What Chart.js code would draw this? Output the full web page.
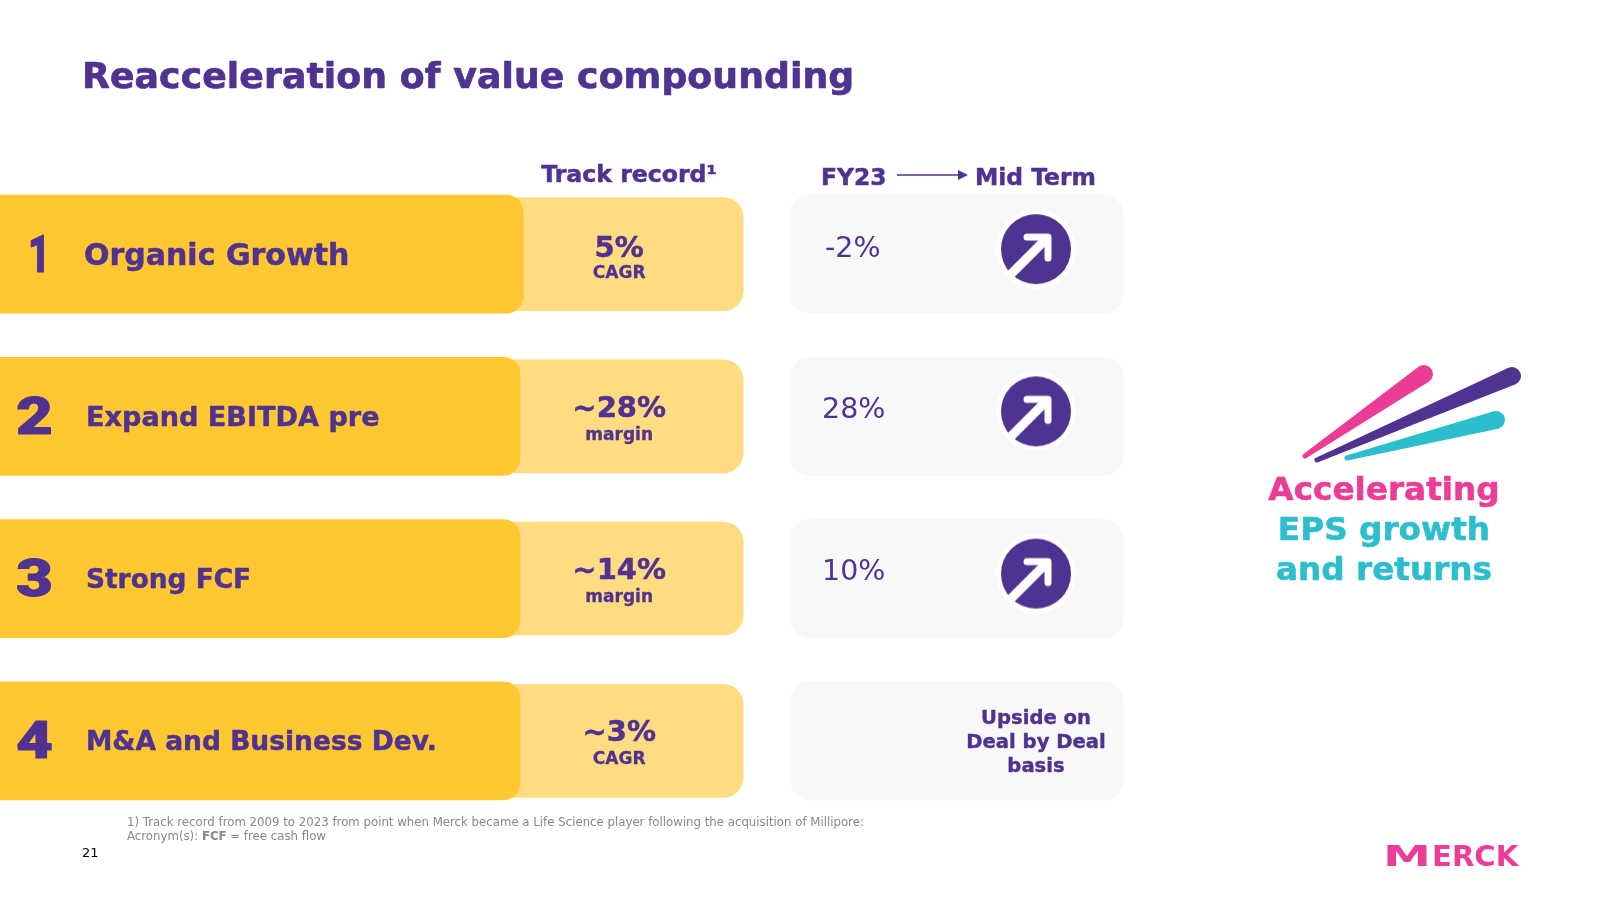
<!DOCTYPE html>
<html>
<head>
<meta charset="utf-8">
<title>Reacceleration of value compounding</title>
<script src="https://cdn.jsdelivr.net/npm/chart.js@4"></script>
<style>
  html, body { margin: 0; background: #fff; }
  canvas { display: block; }
</style>
</head>
<body>
<canvas id="slideChart" width="1600" height="900"></canvas>
<script>
// rows of the slide
const categories = ['Organic Growth', 'Expand EBITDA pre', 'Strong FCF', 'M&A and Business Dev.'];
const rowNumbers = ['1', '2', '3', '4'];

// track record column
const trackValues = ['5%', '~28%', '~14%', '~3%'];
const trackUnits = ['CAGR', 'margin', 'margin', 'CAGR'];

// FY23 -> mid term column
const fy23Values = ['-2%', '28%', '10%', ''];
const midTermUp = [true, true, true, false];
const midTermNote = ['Upside on', 'Deal by Deal', 'basis'];

// bar spans, read in % of slide width
const nameBarEnd = [32.7, 32.5, 32.5, 32.5];
const trackBarSpan = [[30, 46.45], [30, 46.45], [30, 46.45], [30, 46.45]];
const panelSpan = [[49.4, 70.2], [49.4, 70.2], [49.4, 70.2], [49.4, 70.2]];
const midTermAt = 64.75;

const PURPLE = '#503291';
const PINK = '#EB3C96';
const CYAN = '#2DBECD';
const FONT = '"DejaVu Sans"';

// round badge with the up arrow, used as the point style of the mid term marks
function makeBadge() {
    const c = document.createElement('canvas');
    c.width = 84;
    c.height = 94; // extra room below lifts the badge above the row centre
    const g = c.getContext('2d');
    g.translate(42, 42);
    g.fillStyle = '#fff';
    g.beginPath(); g.arc(0, 0, 40, 0, Math.PI * 2); g.fill();
    g.fillStyle = PURPLE;
    g.beginPath(); g.arc(0, 0, 35, 0, Math.PI * 2); g.fill();
    g.strokeStyle = '#fff';
    g.lineCap = 'butt';
    g.lineWidth = 9;
    g.beginPath(); g.moveTo(12, -12); g.lineTo(-27, 27); g.stroke();
    g.lineCap = 'round';
    g.lineJoin = 'round';
    g.lineWidth = 7;
    g.beginPath(); g.moveTo(-9, -12); g.lineTo(12, -12); g.lineTo(12, 9); g.stroke();
    return c;
}

function put(ctx, str, x, y, font, color, align, heavy) {
    ctx.font = font;
    ctx.fillStyle = color;
    ctx.textAlign = align || 'left';
    ctx.textBaseline = 'alphabetic';
    ctx.fillText(str, x, y);
    if (heavy) {
        ctx.strokeStyle = color;
        ctx.lineWidth = heavy;
        ctx.lineJoin = 'round';
        ctx.strokeText(str, x, y);
    }
}

// tapered streak: a thin tip growing into a round head
function streak(ctx, color, tx, ty, tr, hx, hy, hr) {
    const a = Math.atan2(hy - ty, hx - tx);
    const n = a + Math.PI / 2;
    ctx.fillStyle = color;
    ctx.beginPath();
    ctx.moveTo(tx + Math.cos(n) * tr, ty + Math.sin(n) * tr);
    ctx.lineTo(hx + Math.cos(n) * hr, hy + Math.sin(n) * hr);
    ctx.arc(hx, hy, hr, n, n - Math.PI, true);
    ctx.lineTo(tx - Math.cos(n) * tr, ty - Math.sin(n) * tr);
    ctx.arc(tx, ty, tr, n - Math.PI, n, true);
    ctx.closePath();
    ctx.fill();
}

const labelSizes = [30, 27.1, 26.4, 26.5];
const slideText = {
    id: 'slideText',
    afterDatasetsDraw(chart) {
        const ctx = chart.ctx;
        const xs = chart.scales.x;
        const ys = chart.scales.y;
        const trackX = xs.getPixelForValue(38.7);
        const midX = xs.getPixelForValue(midTermAt);
        ctx.save();

        ctx.letterSpacing = '0.09px';
        put(ctx, 'Reacceleration of value compounding', 82, 88, 'bold 36.2px ' + FONT, PURPLE, 'left', 0.7);
        ctx.letterSpacing = '0px';
        put(ctx, 'Track record¹', 629, 182, 'bold 23.6px ' + FONT, PURPLE, 'center', 0.5);
        put(ctx, 'FY23', 821, 185, 'bold 23.4px ' + FONT, PURPLE, 'left', 0.5);
        put(ctx, 'Mid Term', 975, 185, 'bold 23.4px ' + FONT, PURPLE, 'left', 0.5);

        // arrow between the two column heads
        ctx.strokeStyle = PURPLE;
        ctx.lineWidth = 1.5;
        ctx.beginPath(); ctx.moveTo(897, 175); ctx.lineTo(960, 175); ctx.stroke();
        ctx.fillStyle = PURPLE;
        ctx.beginPath(); ctx.moveTo(968, 175); ctx.lineTo(958, 170); ctx.lineTo(958, 180); ctx.closePath(); ctx.fill();

        categories.forEach((name, i) => {
            const y = Math.round(ys.getPixelForValue(i)) - (i > 1 ? 1 : 0);

            // big row number, stretched to look like the brand digits
            ctx.save();
            ctx.translate(i === 0 ? 28 : 16, y + 18);
            ctx.scale(i === 0 ? 0.75 : 1.25, 1);
            put(ctx, rowNumbers[i], 0, 0, '900 51px Roboto', PURPLE, 'left', 1);
            ctx.restore();

            put(ctx, name, i === 0 ? 84 : 86, y + (i === 0 ? 11 : 10), 'bold ' + labelSizes[i] + 'px ' + FONT, PURPLE, 'left', 0.5);
            put(ctx, trackValues[i], trackX, y + (i === 0 ? 3 : 1), 'bold 29px ' + FONT, PURPLE, 'center', 0.5);
            put(ctx, trackUnits[i], trackX, y + 24, 'bold 17px ' + FONT, PURPLE, 'center', 0.3);
            if (fy23Values[i]) put(ctx, fy23Values[i], i === 0 ? 825 : 822, y + (i === 0 ? 3 : 2), '28.5px ' + FONT, PURPLE);
        });

        const lastY = Math.round(ys.getPixelForValue(3));
        midTermNote.forEach((line, i) => {
            put(ctx, line, midX, lastY - 17 + i * 24, 'bold 19.6px ' + FONT, PURPLE, 'center', 0.4);
        });

        // three streaks on the right
        streak(ctx, PINK, 1305, 456, 2.5, 1424, 374, 9);
        streak(ctx, CYAN, 1347, 458, 2.5, 1496, 420, 9);
        streak(ctx, PURPLE, 1317, 460, 2.5, 1512, 376, 9);

        put(ctx, 'Accelerating', 1384, 500, 'bold 32.7px ' + FONT, PINK, 'center', 0.6);
        put(ctx, 'EPS growth', 1384, 540, 'bold 32.7px ' + FONT, CYAN, 'center', 0.6);
        put(ctx, 'and returns', 1384, 580, 'bold 32.7px ' + FONT, CYAN, 'center', 0.6);

        // footnotes and page number
        const note = '11.75px ' + FONT;
        const noteBold = 'bold 11.75px ' + FONT;
        put(ctx, '1) Track record from 2009 to 2023 from point when Merck became a Life Science player following the acquisition of Millipore:', 127, 826, note, '#888888');
        put(ctx, 'Acronym(s): ', 127, 840, note, '#888888');
        let fx = 127 + ctx.measureText('Acronym(s): ').width;
        put(ctx, 'FCF', fx, 840, noteBold, '#888888');
        fx += ctx.measureText('FCF').width;
        put(ctx, ' = free cash flow', fx, 840, note, '#888888');
        put(ctx, '21', 82, 857, '13px ' + FONT, '#000000');

        // wordmark
        ctx.save();
        ctx.translate(1383, 866);
        ctx.scale(1.72, 1);
        put(ctx, 'M', 0, 0, 'bold 28px ' + FONT, PINK);
        ctx.restore();
        ctx.save();
        ctx.translate(1432, 866);
        ctx.scale(1.04, 1);
        put(ctx, 'ERCK', 0, 0, 'bold 28px ' + FONT, PINK);
        ctx.restore();

        ctx.restore();
    }
};

new Chart(document.getElementById('slideChart').getContext('2d'), {
    type: 'bar',
    data: {
        labels: categories,
        datasets: [
            {
                type: 'scatter',
                order: -1,
                data: categories.map((c, i) => ({ x: midTermAt, y: c, up: midTermUp[i] })).filter(p => p.up),
                pointStyle: makeBadge(),
                pointRadius: 40,
                showLine: false
            },
            {
                data: nameBarEnd,
                backgroundColor: '#FFC832',
                barThickness: 118,
                grouped: false,
                borderRadius: { topRight: 17, bottomRight: 17 }
            },
            {
                data: trackBarSpan,
                backgroundColor: '#FFDC82',
                barThickness: 113,
                grouped: false,
                borderSkipped: false,
                borderRadius: 20
            },
            {
                data: panelSpan,
                backgroundColor: '#F8F8F8',
                barThickness: 118,
                grouped: false,
                borderSkipped: false,
                borderRadius: 20
            }
        ]
    },
    options: {
        indexAxis: 'y',
        responsive: false,
        animation: false,
        layout: { autoPadding: false, padding: { top: 173, bottom: 78, left: 0, right: 0 } },
        plugins: { legend: { display: false }, tooltip: { enabled: false } },
        scales: {
            x: { type: 'linear', min: 0, max: 100, display: false },
            y: { type: 'category', display: false, offset: true }
        }
    },
    plugins: [slideText]
});
</script>
</body>
</html>
